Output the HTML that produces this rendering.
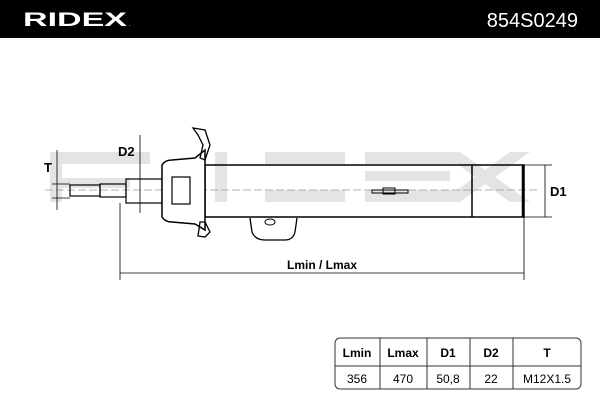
<!DOCTYPE html>
<html><head><style>
body{margin:0;width:600px;height:400px;background:#fff;overflow:hidden;font-family:"Liberation Sans",sans-serif}
</style></head><body>
<svg width="600" height="400" viewBox="0 0 600 400" xmlns="http://www.w3.org/2000/svg" style="position:absolute;left:0;top:0">
<rect x="0" y="0" width="600" height="38" fill="#000"/>
<text x="23" y="26" fill="#fff" font-size="19" font-weight="bold" textLength="104" lengthAdjust="spacingAndGlyphs" font-family="Liberation Sans">RIDEX</text>
<text x="129" y="26" fill="#fff" font-size="6">.</text>
<text x="578" y="27" fill="#fff" font-size="20" text-anchor="end" font-family="Liberation Sans">854S0249</text>
<!-- watermark -->
<g fill="#e4e4e4">
<rect x="50" y="152" width="100" height="12"/><rect x="50" y="152" width="12" height="50"/><rect x="50" y="178" width="80" height="10"/>
<rect x="215" y="152" width="12" height="50"/>
<rect x="265" y="152" width="80" height="12"/><rect x="265" y="190" width="80" height="12"/>
<rect x="365" y="152" width="90" height="12"/><rect x="365" y="171" width="85" height="10"/><rect x="365" y="190" width="90" height="12"/>
<polygon points="440,152 460,152 530,202 510,202"/><polygon points="510,152 530,152 460,202 440,202"/>
</g>
<g stroke="#000" fill="none">
<line x1="45" y1="190" x2="540" y2="190" stroke="#999" stroke-dasharray="8,3" stroke-width="0.7"/>
<rect x="205" y="165" width="319" height="52" stroke-width="1.5"/>
<line x1="472" y1="165" x2="472" y2="217" stroke-width="1.5"/>
<line x1="523" y1="165" x2="523" y2="217" stroke-width="2.5"/>
<rect x="372" y="190" width="36" height="3" stroke-width="1"/>
<rect x="383" y="188" width="12" height="6" stroke-width="1"/>
<rect x="70" y="185" width="30" height="11" stroke-width="1.2"/>
<rect x="100" y="184" width="26" height="13" stroke-width="1.2"/>
<rect x="126" y="179" width="36" height="24" stroke-width="1.2"/>
<path d="M162,165 Q165,160 172,160 L195,158 L205,150 L205,230 L195,224 L172,222 Q165,222 162,217 Z" stroke-width="1.5" fill="#fff"/>
<rect x="172" y="177" width="18" height="27" stroke-width="1.2"/>
<path d="M193,128 L205,130 L210,145 L205,160 L200,158 L203,145 L198,135 Z" stroke-width="1.3"/>
<path d="M200,222 L205,222 L210,232 L205,237 L198,236 Z" stroke-width="1.3"/>
<path d="M250,218 L252,232 Q255,240 265,240 L285,240 Q293,240 295,232 L297,218" stroke-width="1.3"/>
<ellipse cx="270" cy="222" rx="5" ry="3"/>
<g stroke-width="0.8">
<line x1="57" y1="150" x2="57" y2="210"/><line x1="52" y1="184" x2="70" y2="184"/><line x1="52" y1="198" x2="70" y2="198"/>
<line x1="140" y1="135" x2="140" y2="213"/>
<line x1="120" y1="203" x2="120" y2="280"/>
<line x1="524" y1="217" x2="524" y2="280"/>
<line x1="120" y1="273" x2="524" y2="273"/>
<line x1="524" y1="165" x2="552" y2="165"/><line x1="524" y1="217" x2="552" y2="217"/>
<line x1="545" y1="165" x2="545" y2="217"/>
</g>
</g>
<text x="44" y="172" font-size="13" font-weight="bold">T</text>
<text x="118" y="156" font-size="13" font-weight="bold">D2</text>
<text x="550" y="196" font-size="13" font-weight="bold">D1</text>
<text x="322" y="269" font-size="12" font-weight="bold" text-anchor="middle">Lmin / Lmax</text>
<g stroke="#333" fill="none" stroke-width="1">
<rect x="335" y="338" width="246" height="51" rx="5"/>
<line x1="335" y1="366" x2="581" y2="366"/>
<line x1="380" y1="338" x2="380" y2="389"/><line x1="427" y1="338" x2="427" y2="389"/>
<line x1="470" y1="338" x2="470" y2="389"/><line x1="513" y1="338" x2="513" y2="389"/>
</g>
<g font-size="12" text-anchor="middle">
<g font-weight="bold"><text x="357" y="357">Lmin</text><text x="403" y="357">Lmax</text><text x="448" y="357">D1</text><text x="491" y="357">D2</text><text x="547" y="357">T</text></g>
<text x="357" y="383">356</text><text x="403" y="383">470</text><text x="448" y="383">50,8</text><text x="491" y="383">22</text><text x="547" y="383">M12X1.5</text>
</g>
</svg>
</body></html>
